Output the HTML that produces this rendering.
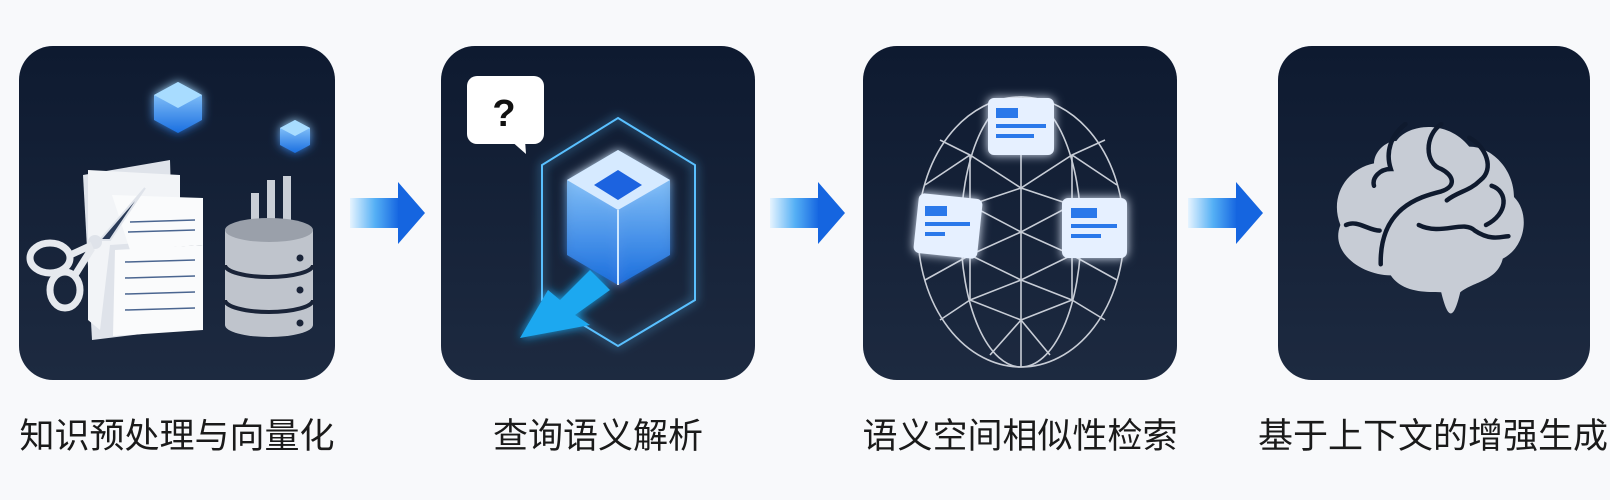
<!DOCTYPE html>
<html><head><meta charset="utf-8"><style>
html,body{margin:0;padding:0;background:#f8f9fb;}
body{width:1610px;height:500px;overflow:hidden;position:relative;font-family:"Liberation Sans","Noto Sans CJK SC",sans-serif;}
.lbl{position:absolute;top:414px;font-size:35px;line-height:46px;color:#1a1a1a;text-align:center;width:420px;white-space:nowrap;}
</style></head><body>
<svg width="1610" height="500" style="position:absolute;left:0;top:0">
<defs>
<linearGradient id="pg" x1="0" y1="0" x2="0" y2="1"><stop offset="0" stop-color="#0e1a30"/><stop offset="1" stop-color="#1d2a40"/></linearGradient>
<linearGradient id="ag" x1="0" y1="0" x2="1" y2="0"><stop offset="0" stop-color="#e6f4ff"/><stop offset="0.5" stop-color="#55b0f5"/><stop offset="1" stop-color="#1262e0"/></linearGradient>
<linearGradient id="cb" x1="0" y1="0" x2="0" y2="1"><stop offset="0" stop-color="#9fd6ff"/><stop offset="1" stop-color="#1a6fe0"/></linearGradient>
<filter id="gl" x="-50%" y="-50%" width="200%" height="200%"><feGaussianBlur stdDeviation="5" result="b"/><feMerge><feMergeNode in="b"/><feMergeNode in="SourceGraphic"/></feMerge></filter>
<g id="arrow"><rect x="0" y="-15" width="50" height="30" fill="url(#ag)"/><polygon points="48,-31 75,0 48,31" fill="#1565e0"/></g>
</defs>
<rect x="19" y="46" width="316" height="334" rx="34" fill="url(#pg)"/>
<rect x="441" y="46" width="314" height="334" rx="34" fill="url(#pg)"/>
<rect x="863" y="46" width="314" height="334" rx="34" fill="url(#pg)"/>
<rect x="1278" y="46" width="312" height="334" rx="34" fill="url(#pg)"/>
<use href="#arrow" x="350" y="213"/>
<use href="#arrow" x="770" y="213"/>
<use href="#arrow" x="1188" y="213"/>

<!-- panel1 -->
<g filter="url(#gl)">
<polygon points="178,82 202,95 202,120 178,133 154,120 154,95" fill="url(#cb)"/>
<polygon points="178,82 202,95 178,108 154,95" fill="#a8dcff"/>
<polygon points="295,120 310,128 310,145 295,153 280,145 280,128" fill="url(#cb)"/>
<polygon points="295,120 310,128 295,136 280,128" fill="#a8dcff"/>
</g>
<polygon points="83,175 170,160 175,330 92,340" fill="#dfe3ea"/>
<polygon points="88,170 180,175 180,240 110,245 100,330 88,320" fill="#f2f4f7"/>
<polygon points="112,195 203,198 203,245 130,250" fill="#fafbfc"/>
<polygon points="115,250 203,245 203,330 113,336" fill="#fafbfc"/>
<g stroke="#4a6590" stroke-width="1.5">
<line x1="130" y1="222" x2="195" y2="220"/><line x1="128" y1="232" x2="195" y2="230"/>
<line x1="125" y1="262" x2="195" y2="260"/><line x1="125" y1="278" x2="195" y2="276"/><line x1="125" y1="294" x2="195" y2="292"/><line x1="125" y1="310" x2="195" y2="308"/>
</g>
<polygon points="145,188 110,240 100,240" fill="#2a3b58" stroke="#dfe3ea" stroke-width="2"/>
<circle cx="95" cy="242" r="7" fill="#dfe3ea"/>
<ellipse cx="50" cy="258" rx="20" ry="15" fill="none" stroke="#e6e9ee" stroke-width="7"/>
<ellipse cx="65" cy="290" rx="15" ry="18" fill="none" stroke="#e6e9ee" stroke-width="7"/>
<line x1="92" y1="245" x2="68" y2="256" stroke="#e6e9ee" stroke-width="7"/>
<line x1="92" y1="248" x2="75" y2="275" stroke="#e6e9ee" stroke-width="7"/>
<rect x="251" y="193" width="8" height="50" fill="#c9ced6"/><rect x="267" y="180" width="8" height="63" fill="#c9ced6"/><rect x="283" y="176" width="8" height="67" fill="#c9ced6"/>
<path d="M225,230 v95 a44,12 0 0 0 88,0 v-95 z" fill="#bfc4cc"/>
<ellipse cx="269" cy="230" rx="44" ry="12" fill="#9aa0aa"/>
<path d="M225,265 a44,12 0 0 0 88,0 M225,300 a44,12 0 0 0 88,0" fill="none" stroke="#1a2438" stroke-width="4"/>
<circle cx="300" cy="258" r="3.5" fill="#1a2438"/><circle cx="300" cy="290" r="3.5" fill="#1a2438"/><circle cx="300" cy="323" r="3.5" fill="#1a2438"/>

<!-- panel2 -->
<rect x="467" y="76" width="77" height="68" rx="10" fill="#fff"/>
<polygon points="510,140 525,140 526,154" fill="#fff"/>
<text x="504" y="126" font-size="38" font-weight="bold" fill="#111" text-anchor="middle" font-family="Liberation Sans">?</text>
<g filter="url(#gl)">
<polygon points="618,118 695,165 695,300 618,346 542,300 542,165" fill="none" stroke="#5ac0ff" stroke-width="2"/>
<polygon points="618,150 670,180 670,255 618,285 567,255 567,180" fill="url(#cb)" opacity="0.9"/>
<polygon points="618,150 670,180 618,210 567,180" fill="#d6eaff"/>
<polygon points="618,170 642,185 618,200 594,185" fill="#1f63e0"/>
<line x1="618" y1="210" x2="618" y2="285" stroke="#cfe8ff" stroke-width="2"/>
<polygon points="590,270 610,290 575,315 590,325 520,338 548,290 560,300" fill="#1ba8f0"/>
</g>

<!-- panel3 -->
<g stroke="#c8cdd6" stroke-width="1.6" fill="none">
<ellipse cx="1021" cy="232" rx="103" ry="135"/>
<ellipse cx="1021" cy="232" rx="60" ry="135"/>
<line x1="1021" y1="97" x2="1021" y2="367"/>
<path d="M925,185 L970,155 L1021,188 L1072,155 L1117,185 M918,232 L970,205 L1021,232 L1072,205 L1124,232 M925,280 L970,255 L1021,280 L1072,255 L1117,280 M940,320 L970,300 L1021,320 L1072,300 L1105,320 M940,140 L970,155 M1072,155 L1105,140 M970,155 L970,300 M1072,155 L1072,300 M970,205 L1021,188 L1072,205 M970,255 L1021,232 L1072,255 M970,300 L1021,280 L1072,300 M1021,320 L990,355 M1021,320 L1050,355"/>
</g>
<g filter="url(#gl)">
<rect x="988" y="98" width="66" height="57" rx="6" fill="#e6f0ff"/>
<rect x="996" y="108" width="22" height="10" fill="#2a78ea"/><rect x="996" y="124" width="50" height="4" fill="#2a78ea"/><rect x="996" y="134" width="38" height="4" fill="#2a78ea"/>
<rect x="916" y="196" width="64" height="60" rx="6" fill="#e6f0ff" transform="rotate(6 948 226)"/>
<rect x="925" y="206" width="22" height="10" fill="#2a78ea"/><rect x="925" y="222" width="45" height="4" fill="#2a78ea"/><rect x="925" y="232" width="20" height="4" fill="#2a78ea"/>
<rect x="1062" y="198" width="65" height="60" rx="6" fill="#e6f0ff"/>
<rect x="1071" y="208" width="26" height="10" fill="#2a78ea"/><rect x="1071" y="224" width="46" height="4" fill="#2a78ea"/><rect x="1071" y="234" width="30" height="4" fill="#2a78ea"/>
</g>

<!-- panel4 brain -->
<g transform="translate(1430,225) scale(1.12) translate(-1430,-240)">
<path d="M1380,185 C1355,190 1340,215 1350,240 C1340,265 1370,285 1395,285 C1405,300 1425,300 1440,300 C1445,320 1450,330 1457,300 C1470,290 1490,290 1495,270 C1515,260 1520,230 1505,215 C1505,190 1485,170 1465,170 C1445,145 1410,150 1400,165 C1390,165 1380,175 1380,185 Z" fill="#c7ccd5"/>
<g stroke="#0f1a2e" stroke-width="4" fill="none" stroke-linecap="round">
<path d="M1408,150 C1395,160 1390,175 1395,190 C1385,190 1378,198 1380,205"/>
<path d="M1440,150 C1425,160 1425,185 1440,190 C1450,195 1455,205 1440,210 C1420,215 1385,225 1386,275"/>
<path d="M1465,162 C1480,170 1488,190 1475,200 C1465,210 1455,210 1445,218"/>
<path d="M1485,205 C1500,210 1500,230 1480,240"/>
<path d="M1420,240 C1440,250 1460,235 1470,245 C1485,255 1495,250 1500,250"/>
<path d="M1355,240 C1365,235 1375,245 1385,245"/>
</g>
</g>
</svg>
<div class="lbl" style="left:-33px">知识预处理与向量化</div>
<div class="lbl" style="left:388px">查询语义解析</div>
<div class="lbl" style="left:810px">语义空间相似性检索</div>
<div class="lbl" style="left:1223px">基于上下文的增强生成</div>
</body></html>
